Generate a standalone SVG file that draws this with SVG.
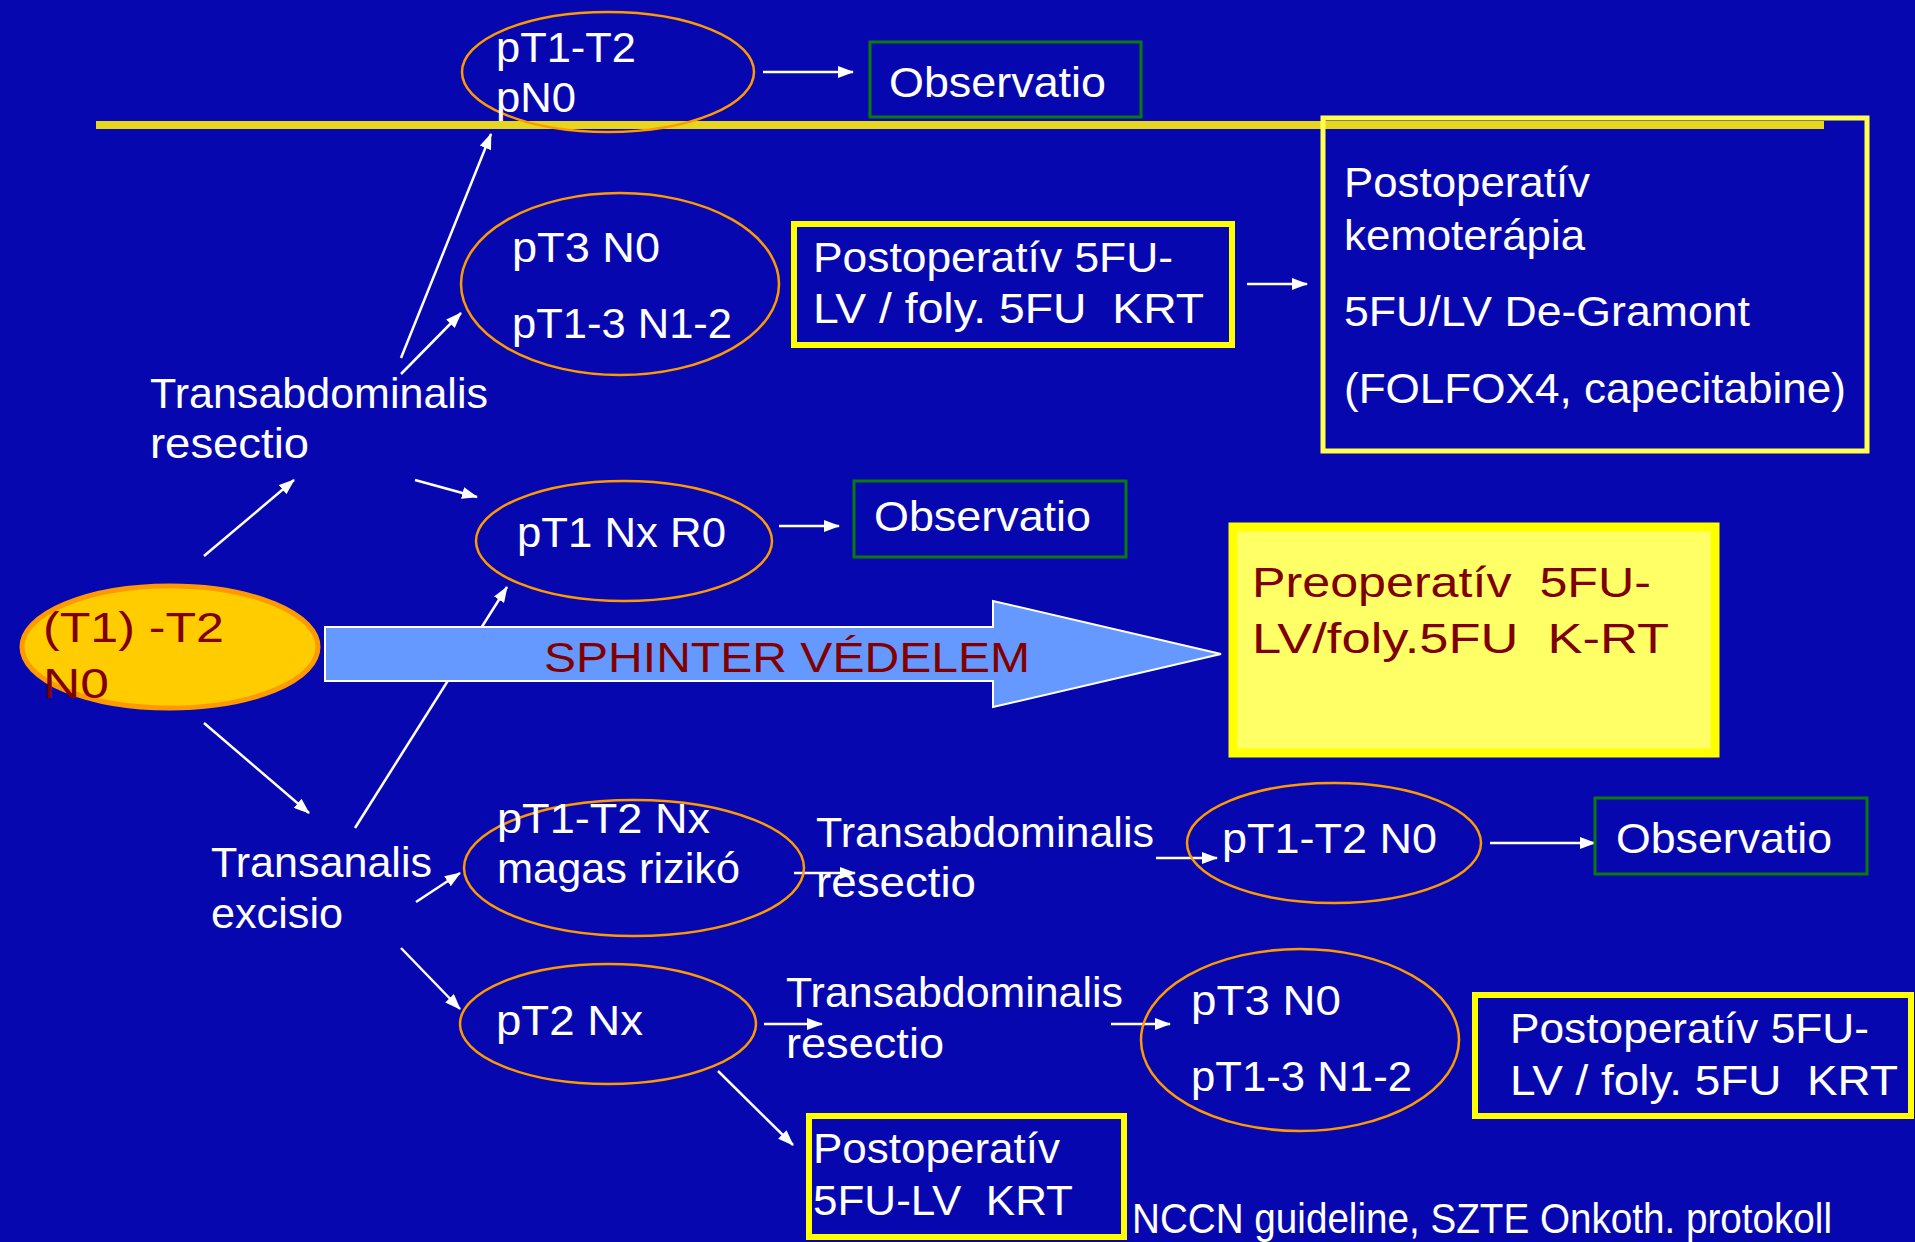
<svg xmlns="http://www.w3.org/2000/svg" width="1915" height="1242" viewBox="0 0 1915 1242">
<style>
.t{font-family:"Liberation Sans",Arial,sans-serif;font-size:42px;fill:#ffffff;white-space:pre}
.r{fill:#800000}
.ell{fill:none;stroke:#FF9900;stroke-width:2.5}
.gbox{fill:none;stroke:#0B7A0B;stroke-width:3}
.ybox{fill:none;stroke:#FFFF00;stroke-width:6}
.c{stroke:#ffffff;stroke-width:2.5;fill:none;marker-end:url(#ah)}
</style>
<defs>
<marker id="ah" markerUnits="userSpaceOnUse" markerWidth="16" markerHeight="12" refX="15" refY="6" orient="auto">
<path d="M0,0 L16,6 L0,12 z" fill="#ffffff"/>
</marker>
</defs>
<rect x="0" y="0" width="1915" height="1242" fill="#0707B0"/>
<rect id="divider" x="96" y="121" width="1728" height="8" fill="#E6D61E"/>

<g id="connectors">
<line class="c" x1="763" y1="72" x2="853" y2="72"/>
<line class="c" x1="401" y1="358" x2="491" y2="134"/>
<line class="c" x1="401" y1="374" x2="461" y2="313"/>
<line class="c" x1="1247" y1="284" x2="1307" y2="284"/>
<line class="c" x1="204" y1="556" x2="294" y2="480"/>
<line class="c" x1="415" y1="480" x2="477" y2="497"/>
<line class="c" x1="779" y1="526" x2="839" y2="526"/>
<line class="c" x1="204" y1="723" x2="309" y2="813"/>
<line class="c" x1="355" y1="828" x2="507" y2="587"/>
<line class="c" x1="416" y1="902" x2="460" y2="873"/>
<line class="c" x1="401" y1="948" x2="460" y2="1009"/>
<line class="c" x1="794" y1="873" x2="855" y2="873"/>
<line class="c" x1="1156" y1="858" x2="1217" y2="858"/>
<line class="c" x1="1490" y1="843" x2="1595" y2="843"/>
<line class="c" x1="764" y1="1024" x2="822" y2="1024"/>
<line class="c" x1="1111" y1="1024" x2="1170" y2="1024"/>
<line class="c" x1="718" y1="1071" x2="793" y2="1145"/>
</g>

<g id="n-pt1t2-pn0">
<ellipse class="ell" cx="608" cy="72" rx="146" ry="60"/>
<text class="t" x="496" y="62" textLength="140" lengthAdjust="spacingAndGlyphs">pT1-T2</text>
<text class="t" x="496" y="112" textLength="80" lengthAdjust="spacingAndGlyphs">pN0</text>
</g>
<g id="n-obs-top">
<rect class="gbox" x="870" y="42" width="271" height="75"/>
<text class="t" x="889" y="97" textLength="217" lengthAdjust="spacingAndGlyphs">Observatio</text>
</g>
<g id="n-pt3-top">
<ellipse class="ell" cx="620" cy="284" rx="159" ry="91"/>
<text class="t" x="512" y="262" textLength="148" lengthAdjust="spacingAndGlyphs">pT3 N0</text>
<text class="t" x="512" y="338" textLength="220" lengthAdjust="spacingAndGlyphs">pT1-3 N1-2</text>
</g>
<g id="n-postop-top">
<rect class="ybox" x="794" y="224" width="438" height="121"/>
<text class="t" x="813" y="272" textLength="360" lengthAdjust="spacingAndGlyphs">Postoperatív 5FU-</text>
<text class="t" x="813" y="323" textLength="391" lengthAdjust="spacingAndGlyphs" xml:space="preserve">LV / foly. 5FU  KRT</text>
</g>
<g id="n-kemo">
<rect x="1323" y="118" width="544" height="333" fill="none" stroke="#FFFF4D" stroke-width="5"/>
<text class="t" x="1344" y="197" textLength="246" lengthAdjust="spacingAndGlyphs">Postoperatív</text>
<text class="t" x="1344" y="250" textLength="241" lengthAdjust="spacingAndGlyphs">kemoterápia</text>
<text class="t" x="1344" y="326" textLength="406" lengthAdjust="spacingAndGlyphs">5FU/LV De-Gramont</text>
<text class="t" x="1344" y="403" textLength="502" lengthAdjust="spacingAndGlyphs">(FOLFOX4, capecitabine)</text>
</g>
<g id="n-transabd-1">
<text class="t" x="150" y="408" textLength="338" lengthAdjust="spacingAndGlyphs">Transabdominalis</text>
<text class="t" x="150" y="458" textLength="159" lengthAdjust="spacingAndGlyphs">resectio</text>
</g>
<g id="n-pt1nxr0">
<ellipse class="ell" cx="624" cy="541" rx="148" ry="60"/>
<text class="t" x="517" y="547" textLength="209" lengthAdjust="spacingAndGlyphs">pT1 Nx R0</text>
</g>
<g id="n-obs-mid">
<rect class="gbox" x="854" y="481" width="272" height="76"/>
<text class="t" x="874" y="531" textLength="217" lengthAdjust="spacingAndGlyphs">Observatio</text>
</g>
<g id="n-start">
<ellipse cx="170" cy="647" rx="148" ry="61" fill="#FFCC00" stroke="#FF9900" stroke-width="5"/>
<text class="t r" x="43" y="642" font-size="50" textLength="181" lengthAdjust="spacingAndGlyphs">(T1) -T2</text>
<text class="t r" x="43" y="698" font-size="50" textLength="66" lengthAdjust="spacingAndGlyphs">N0</text>
</g>
<g id="n-sphinter">
<polygon points="325,627 993,627 993,601 1221,654 993,707 993,681 325,681" fill="#6699FF" stroke="#ffffff" stroke-width="2"/>
<text class="t r" x="544" y="672" font-size="46" textLength="486" lengthAdjust="spacingAndGlyphs">SPHINTER VÉDELEM</text>
</g>
<g id="n-preop">
<rect x="1233" y="527" width="482" height="226" fill="#FFFF66" stroke="#FFFF00" stroke-width="9"/>
<text class="t r" x="1252" y="597" font-size="49" textLength="399" lengthAdjust="spacingAndGlyphs" xml:space="preserve">Preoperatív  5FU-</text>
<text class="t r" x="1252" y="653" font-size="49" textLength="417" lengthAdjust="spacingAndGlyphs" xml:space="preserve">LV/foly.5FU  K-RT</text>
</g>
<g id="n-transanal">
<text class="t" x="211" y="877" textLength="221" lengthAdjust="spacingAndGlyphs">Transanalis</text>
<text class="t" x="211" y="928" textLength="132" lengthAdjust="spacingAndGlyphs">excisio</text>
</g>
<g id="n-magas">
<ellipse class="ell" cx="634" cy="868" rx="170" ry="68"/>
<text class="t" x="497" y="833" textLength="213" lengthAdjust="spacingAndGlyphs">pT1-T2 Nx</text>
<text class="t" x="497" y="883" textLength="243" lengthAdjust="spacingAndGlyphs">magas rizikó</text>
</g>
<g id="n-transabd-2">
<text class="t" x="816" y="847" textLength="338" lengthAdjust="spacingAndGlyphs">Transabdominalis</text>
<text class="t" x="816" y="897" textLength="160" lengthAdjust="spacingAndGlyphs">resectio</text>
</g>
<g id="n-pt1t2n0">
<ellipse class="ell" cx="1334" cy="843" rx="147" ry="60"/>
<text class="t" x="1222" y="853" textLength="215" lengthAdjust="spacingAndGlyphs">pT1-T2 N0</text>
</g>
<g id="n-obs-low">
<rect class="gbox" x="1595" y="798" width="272" height="76"/>
<text class="t" x="1616" y="853" textLength="216" lengthAdjust="spacingAndGlyphs">Observatio</text>
</g>
<g id="n-pt2nx">
<ellipse class="ell" cx="608" cy="1024" rx="148" ry="60"/>
<text class="t" x="496" y="1035" textLength="147" lengthAdjust="spacingAndGlyphs">pT2 Nx</text>
</g>
<g id="n-transabd-3">
<text class="t" x="786" y="1007" textLength="337" lengthAdjust="spacingAndGlyphs">Transabdominalis</text>
<text class="t" x="786" y="1058" textLength="158" lengthAdjust="spacingAndGlyphs">resectio</text>
</g>
<g id="n-pt3-low">
<ellipse class="ell" cx="1300" cy="1040" rx="159" ry="91"/>
<text class="t" x="1191" y="1015" textLength="150" lengthAdjust="spacingAndGlyphs">pT3 N0</text>
<text class="t" x="1191" y="1091" textLength="221" lengthAdjust="spacingAndGlyphs">pT1-3 N1-2</text>
</g>
<g id="n-postop-low">
<rect class="ybox" x="1475" y="995" width="436" height="121"/>
<text class="t" x="1510" y="1043" textLength="359" lengthAdjust="spacingAndGlyphs">Postoperatív 5FU-</text>
<text class="t" x="1510" y="1095" textLength="388" lengthAdjust="spacingAndGlyphs" xml:space="preserve">LV / foly. 5FU  KRT</text>
</g>
<g id="n-postop-pt2">
<rect class="ybox" x="809" y="1116" width="315" height="121"/>
<text class="t" x="813" y="1163" textLength="247" lengthAdjust="spacingAndGlyphs">Postoperatív</text>
<text class="t" x="813" y="1215" textLength="260" lengthAdjust="spacingAndGlyphs" xml:space="preserve">5FU-LV  KRT</text>
</g>
<g id="n-source">
<text class="t" x="1132" y="1233" font-size="38" textLength="700" lengthAdjust="spacingAndGlyphs">NCCN guideline, SZTE Onkoth. protokoll</text>
</g>
</svg>
